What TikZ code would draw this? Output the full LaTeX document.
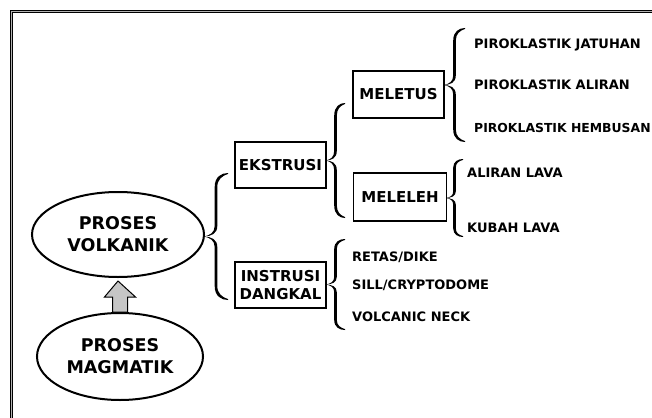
\documentclass[tikz,border=0pt]{standalone}
\usepackage{fontspec}
\setmainfont{DejaVu Sans}
\usepackage{tikz}
\usetikzlibrary{shapes.geometric, positioning, calc}

\begin{document}
\begin{tikzpicture}[
    x=1pt, y=-1pt,
    box/.style={rectangle, draw=black, line width=1.6pt, fill=white, align=center, minimum width=91pt, minimum height=46pt, inner sep=2pt, font=\fontsize{15}{18}\selectfont\bfseries},
    oval/.style={ellipse, draw=black, line width=2pt, fill=white, align=center, inner sep=0pt, font=\fontsize{17.5}{22}\selectfont\bfseries},
    leaf/.style={anchor=west, inner sep=0pt, font=\fontsize{13}{15}\selectfont\bfseries},
    frame/.style={draw=black, line width=1.2pt, double=gray!60, double distance=1.2pt},
    uparrow/.style={draw=black, line width=1pt, fill=gray!45, line join=miter},
    halfbrace/.style 2 args={insert path={(0,0) .. controls ({0.25*#1},{-0.02*#2}) and ({0.5*#1-1.3},{-0.06*#2}) .. ({0.5*#1-1.3},{-0.17*#2})
      -- ({0.5*#1-1.3},{-0.78*#2}) .. controls ({0.5*#1-1.3},{-0.94*#2}) and ({0.72*#1},{-#2}) .. (#1,{-#2})
      -- (#1,{-#2+0.9}) .. controls ({0.76*#1},{-0.97*#2+0.9}) and ({0.5*#1+1.3},{-0.9*#2}) .. ({0.5*#1+1.3},{-0.78*#2})
      -- ({0.5*#1+1.3},{-0.17*#2}) .. controls ({0.5*#1+1.3},{-0.04*#2}) and ({0.3*#1},{-0.005*#2}) .. (0,0) -- cycle}},
    pics/curly/.style 2 args={code={
      \fill[halfbrace={#1}{#2}];
      \fill[yscale=-1, halfbrace={#1}{#2}];
    }}
]
\useasboundingbox (0,0) rectangle (652,417);

% Frame
\draw[frame] (11.5,430) -- (11.5,11.5) -- (670,11.5);

% Nodes
\node[oval, minimum width=172pt, minimum height=85pt] (volkanik) at (118,234.5) {PROSES\\VOLKANIK};
\node[oval, minimum width=166pt, minimum height=87pt] (magmatik) at (120,356.5) {PROSES\\MAGMATIK};

\node[box] (ekstrusi) at (280.5,165) {EKSTRUSI};
\node[box] (instrusi) at (280.5,285) {INSTRUSI\\DANGKAL};
\node[box, minimum height=47pt] (meletus) at (398.5,94.5) {MELETUS};
\node[box, minimum width=93pt, minimum height=48pt] (meleleh) at (400,197) {MELELEH};

\node[leaf] (jatuhan) at (474,45) {PIROKLASTIK JATUHAN};
\node[leaf] (aliran) at (474,85) {PIROKLASTIK ALIRAN};
\node[leaf, font=\fontsize{12.4}{15}\selectfont\bfseries] (hembusan) at (474,128) {PIROKLASTIK HEMBUSAN};

\node[leaf] (lava) at (467,173) {ALIRAN LAVA};
\node[leaf] (kubah) at (467,228) {KUBAH LAVA};

\node[leaf] (retas) at (352,257) {RETAS/DIKE};
\node[leaf] (sill) at (352,285) {SILL/CRYPTODOME};
\node[leaf] (neck) at (352,317) {VOLCANIC NECK};

% Braces
\pic (brvol) at (204,236.5) {curly={24}{63.5}};
\pic (brek) at (326,160.5) {curly={19}{57.5}};
\pic (brin) at (326,284.5) {curly={19}{45.5}};
\pic (brmt) at (444,85) {curly={21}{57}};
\pic (brml) at (446,198) {curly={17}{39}};

% Arrow
\draw[uparrow] ($(magmatik.north)+(-7.5,0)$) -- ++(0,-15) -- ++(-8,0)
  -- ($(volkanik.south)+(0,3)$) -- ($(magmatik.north)+(15.5,-15)$)
  -- ++(-8,0) -- ($(magmatik.north)+(7.5,0)$) -- cycle;

\end{tikzpicture}
\end{document}
